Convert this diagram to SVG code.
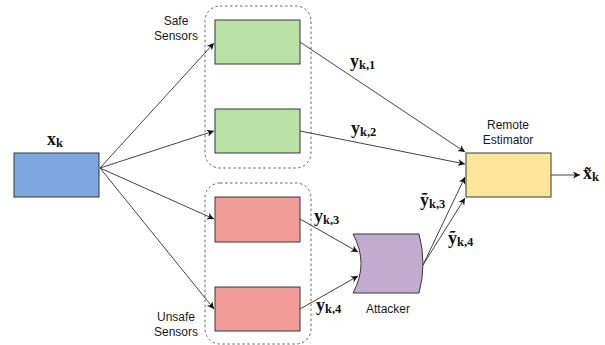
<svg xmlns="http://www.w3.org/2000/svg" width="605" height="345" viewBox="0 0 605 345">
<style>
.box{stroke:#36393d;stroke-width:1}
.grp{fill:none;stroke:#666;stroke-width:1;stroke-dasharray:2.5,2.5}
.lbl{font-family:"Liberation Sans",Arial,sans-serif;font-size:12px;fill:#1a1a1a;text-anchor:middle}
.m{font-family:"Liberation Serif","Times New Roman",serif;font-weight:bold;font-size:18px;fill:#111}
.s{font-size:12.5px}
.c{fill:none;stroke:#444;stroke-width:1;marker-end:url(#ah)}
</style>
<defs>
<marker id="ah" markerWidth="8" markerHeight="8" refX="7" refY="3.5" orient="auto" markerUnits="userSpaceOnUse">
<path d="M0,0 L7,3.5 L0,7 L2,3.5 Z" fill="#111"/>
</marker>
</defs>
<rect x="0" y="0" width="605" height="345" fill="#fff"/>

<g id="safe-group">
<rect class="grp" x="205" y="6" width="106" height="162" rx="15"/>
<text class="lbl" x="176" y="25">Safe</text>
<text class="lbl" x="176" y="40">Sensors</text>
</g>
<g id="unsafe-group">
<rect class="grp" x="205" y="183" width="106" height="161" rx="15"/>
<text class="lbl" x="176" y="321">Unsafe</text>
<text class="lbl" x="176" y="336">Sensors</text>
</g>

<g id="connectors">
<path class="c" d="M100,168 L214,43"/>
<path class="c" d="M100,168 L214,131"/>
<path class="c" d="M100,168 L214,219"/>
<path class="c" d="M100,168 L214,309"/>
<path class="c" d="M300,42 L465,152"/>
<path class="c" d="M300,131 L465,164"/>
<path class="c" d="M300,219 L358,252"/>
<path class="c" d="M300,309 L358,276"/>
<path class="c" d="M423,265 L465,177"/>
<path class="c" d="M423,265 L465,198"/>
<path class="c" d="M551,175 L580,175"/>
</g>

<g id="xk">
<rect class="box" x="14" y="153" width="85" height="44" fill="#7ea6e0"/>
<text class="m" x="47" y="145">x<tspan class="s" dy="2">k</tspan></text>
</g>
<g id="sensor1">
<rect class="box" x="215" y="20" width="85" height="44" fill="#b9e0a5"/>
</g>
<g id="sensor2">
<rect class="box" x="215" y="109" width="85" height="44" fill="#b9e0a5"/>
</g>
<g id="sensor3">
<rect class="box" x="215" y="197" width="85" height="45" fill="#f19c99"/>
</g>
<g id="sensor4">
<rect class="box" x="215" y="287" width="85" height="44" fill="#f19c99"/>
</g>
<g id="attacker">
<path class="box" d="M353,234 L419,234 Q427,263.5 419,293 L353,293 Q369,263.5 353,234 Z" fill="#c3abd0"/>
<text class="lbl" x="388" y="313">Attacker</text>
</g>
<g id="estimator">
<rect class="box" x="466" y="153" width="85" height="44" fill="#ffe599"/>
<text class="lbl" x="508" y="129">Remote</text>
<text class="lbl" x="508" y="144">Estimator</text>
</g>

<g id="labels">
<text class="m" x="350" y="67">y<tspan class="s" dy="2">k,1</tspan></text>
<text class="m" x="351" y="134">y<tspan class="s" dy="2">k,2</tspan></text>
<text class="m" x="314" y="222">y<tspan class="s" dy="2">k,3</tspan></text>
<text class="m" x="316" y="311">y<tspan class="s" dy="2">k,4</tspan></text>
<text class="m" x="420" y="206">ỹ<tspan class="s" dy="2">k,3</tspan></text>
<text class="m" x="448" y="244">ỹ<tspan class="s" dy="2">k,4</tspan></text>
<text class="m" x="583" y="179">x̃<tspan class="s" dy="2">k</tspan></text>
</g>
</svg>
